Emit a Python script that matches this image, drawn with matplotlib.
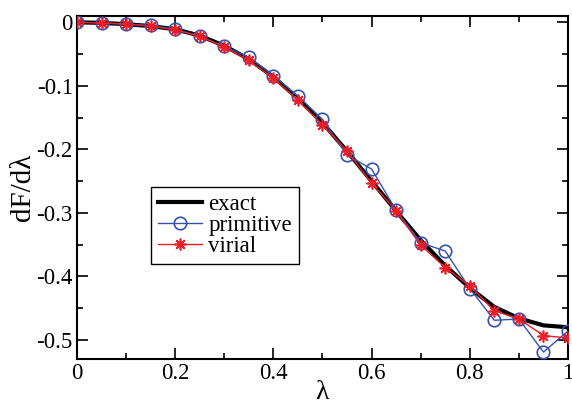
import matplotlib.pyplot as plt
import numpy as np
from matplotlib.ticker import MultipleLocator

plt.rcParams["font.family"] = ["Liberation Serif", "DejaVu Serif"]
plt.rcParams["mathtext.fontset"] = "stix"

# lambda grid
lam = [0.0, 0.05, 0.1, 0.15, 0.2, 0.25, 0.3, 0.35, 0.4, 0.45, 0.5,
       0.55, 0.6, 0.65, 0.7, 0.75, 0.8, 0.85, 0.9, 0.95, 1.0]

# exact dF/dlambda
exact = [0.0, -0.001, -0.003, -0.006, -0.011, -0.021, -0.037, -0.058, -0.086,
         -0.120, -0.158, -0.203, -0.250, -0.297, -0.343, -0.383, -0.418,
         -0.448, -0.466, -0.477, -0.480]

# primitive estimator
primitive = [0.0, -0.001, -0.003, -0.005, -0.011, -0.022, -0.038, -0.055, -0.084,
             -0.116, -0.153, -0.209, -0.231, -0.296, -0.347, -0.360, -0.419,
             -0.469, -0.467, -0.519, -0.486]

# virial estimator
virial = [0.0, -0.001, -0.003, -0.006, -0.012, -0.022, -0.039, -0.060, -0.088,
          -0.123, -0.161, -0.203, -0.253, -0.297, -0.351, -0.386, -0.415,
          -0.454, -0.467, -0.493, -0.497]

fig = plt.figure(figsize=(5.72, 4.08), dpi=100)
ax = fig.add_axes([0.1346, 0.120, 0.8584, 0.841])

ax.plot(lam, exact, color="black", lw=3, label="exact", zorder=2)
ax.plot(lam, primitive, color="#3552b0", lw=1, marker="o", ms=9,
        mfc="none", mec="#3552b0", mew=1.2, label="primitive", zorder=3)
ax.plot(lam, virial, color="#ee1c24", lw=1, marker=(8, 2, 0), ms=8.5,
        mec="#ee1c24", mew=1.2, label="virial", zorder=4)

ax.set_xlim(0, 1)
ax.set_ylim(-0.53, 0.01)
ax.xaxis.set_major_locator(MultipleLocator(0.2))
ax.xaxis.set_minor_locator(MultipleLocator(0.1))
ax.yaxis.set_major_locator(MultipleLocator(0.1))
ax.yaxis.set_minor_locator(MultipleLocator(0.05))
ax.set_xticks([0, 0.2, 0.4, 0.6, 0.8, 1.0])
ax.set_xticklabels(["0", "0.2", "0.4", "0.6", "0.8", "1"])
ax.set_yticks([0, -0.1, -0.2, -0.3, -0.4, -0.5])
ax.set_yticklabels(["0", "-0.1", "-0.2", "-0.3", "-0.4", "-0.5"])

ax.tick_params(which="both", direction="in", top=True, right=True,
               labelsize=16.5, width=1.2, pad=3)
ax.tick_params(which="major", length=8)
ax.tick_params(which="minor", length=4)
for s in ax.spines.values():
    s.set_linewidth(1.5)

ax.set_xlabel("λ", fontsize=20, labelpad=-3)
ax.set_ylabel("dF/dλ", fontsize=21, labelpad=0)

leg = ax.legend(loc="upper left", bbox_to_anchor=(0.151, 0.50),
                borderaxespad=0, fontsize=16.5, fancybox=False,
                edgecolor="black", framealpha=1, handlelength=1.9,
                handletextpad=0.3, labelspacing=0.0, borderpad=0.3)
leg.get_frame().set_linewidth(1.0)

fig.savefig("out.png", dpi=100)
